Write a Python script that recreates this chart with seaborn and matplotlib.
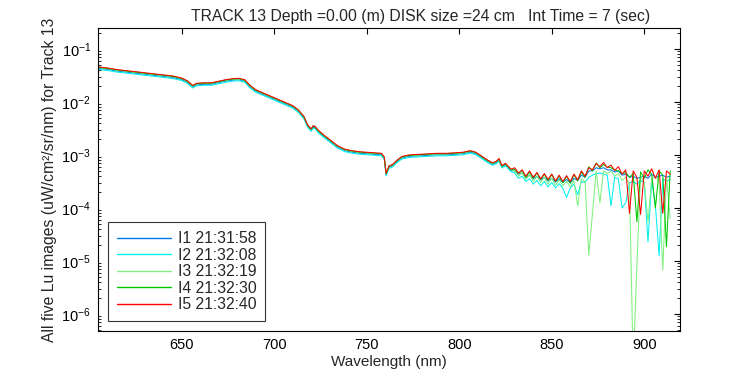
import numpy as np
import pandas as pd
import matplotlib
matplotlib.use("Agg")
import matplotlib.pyplot as plt
import seaborn as sns
from matplotlib.ticker import LogLocator, NullFormatter, FixedLocator

# ---------------- data (log10 of Lu) ----------------
series_names = ["I1 21:31:58", "I2 21:32:08", "I3 21:32:19", "I4 21:32:30", "I5 21:32:40"]
series_colors = ["#0078E8", "#00F0F0", "#80F080", "#00C800", "#FF0000"]

# smooth part shared by all five images
smooth_wl = [605, 610, 615, 620, 625, 630, 635, 640, 645, 650, 653, 656, 658, 662, 666,
             670, 674, 678, 681, 684, 687, 690, 694, 698, 702, 706, 710, 713, 716, 718,
             720, 721, 722, 724, 727, 730, 734, 738, 742, 746, 750, 754, 758, 759.5, 760.5,
             762, 764, 766, 769, 773, 778, 783, 788, 793, 798, 802, 806, 809, 812, 815,
             818, 820, 821.5, 823, 825, 828]
smooth_log = [-1.35, -1.37, -1.40, -1.42, -1.44, -1.46, -1.48, -1.50, -1.52, -1.56, -1.61,
              -1.70, -1.66, -1.65, -1.65, -1.62, -1.59, -1.57, -1.565, -1.59, -1.70, -1.78,
              -1.84, -1.90, -1.96, -2.02, -2.08, -2.16, -2.28, -2.44, -2.52, -2.46, -2.47,
              -2.55, -2.64, -2.72, -2.83, -2.90, -2.93, -2.95, -2.96, -2.97, -2.98, -3.05,
              -3.36, -3.22, -3.19, -3.12, -3.04, -3.01, -3.00, -2.99, -2.98, -2.98, -2.97,
              -2.96, -2.93, -2.96, -3.03, -3.10, -3.16, -3.13, -3.08, -3.21, -3.17, -3.28]
# small per-image shift of the smooth part (log10)
smooth_shift = [-0.015, -0.035, 0.0, 0.005, 0.012]

# noisy part, every 2 nm from 830 to 914 nm
noisy_wl = list(range(830, 915, 2))
noisy_I1 = [-3.30, -3.36, -3.34, -3.42, -3.38, -3.45, -3.40, -3.47, -3.42, -3.49, -3.44,
            -3.51, -3.45, -3.52, -3.46, -3.53, -3.44, -3.48, -3.38, -3.42, -3.30, -3.30,
            -3.24, -3.26, -3.24, -3.28, -3.28, -3.32, -3.30, -3.38, -3.36, -3.42, -3.40,
            -3.44, -3.42, -3.40, -3.44, -3.36, -3.42, -3.40, -3.38, -3.42, -3.40]
noisy_I2 = [-3.34, -3.44, -3.40, -3.50, -3.45, -3.55, -3.48, -3.58, -3.50, -3.60, -3.52,
            -3.62, -3.54, -3.63, -3.80, -3.62, -3.55, -3.75, -3.50, -3.52, -3.42, -3.38,
            -3.35, -3.34, -3.36, -3.38, -3.96, -3.42, -3.45, -4.00, -3.90, -3.52, -3.50,
            -3.55, -3.48, -3.52, -4.64, -3.48, -3.95, -4.90, -3.45, -3.50, -3.46]
noisy_I3 = [-3.30, -3.40, -3.33, -3.46, -3.37, -3.50, -3.40, -3.52, -3.42, -3.55, -3.44,
            -3.57, -3.47, -3.58, -3.50, -3.60, -3.48, -3.96, -3.45, -3.50, -4.89, -4.10,
            -3.30, -3.90, -3.30, -3.35, -3.30, -3.40, -3.35, -3.48, -3.42, -3.55, -7.00,
            -5.08, -3.40, -3.52, -4.26, -3.45, -3.40, -3.50, -5.17, -3.40, -4.20]
noisy_I4 = [-3.27, -3.35, -3.29, -3.42, -3.32, -3.44, -3.34, -3.46, -3.36, -3.48, -3.37,
            -3.50, -3.40, -3.52, -3.40, -3.53, -3.37, -3.49, -3.32, -3.42, -3.22, -3.30,
            -3.15, -3.24, -3.18, -3.23, -3.24, -3.28, -3.30, -3.35, -3.33, -3.42, -3.35,
            -4.26, -3.32, -3.44, -3.28, -3.36, -4.00, -3.30, -3.38, -4.73, -3.30]
noisy_I5 = [-3.24, -3.34, -3.28, -3.40, -3.30, -3.42, -3.33, -3.45, -3.35, -3.46, -3.36,
            -3.49, -3.38, -3.50, -3.39, -3.50, -3.36, -3.47, -3.30, -3.40, -3.24, -3.28,
            -3.16, -3.22, -3.14, -3.24, -3.19, -3.29, -3.22, -3.36, -3.28, -4.10, -3.30,
            -3.42, -4.12, -3.30, -3.40, -3.26, -3.44, -3.28, -4.10, -3.30, -3.36]
noisy_all = [noisy_I1, noisy_I2, noisy_I3, noisy_I4, noisy_I5]

x_ticks = [650, 700, 750, 800, 850, 900]
title_text = "TRACK 13 Depth =0.00 (m) DISK size =24 cm   Int Time = 7 (sec)"
x_label = "Wavelength (nm)"
y_label = "All five Lu images (uW/cm\u00b2/sr/nm) for Track 13"

# ---------------- build table ----------------
rows = []
for name, shift, noisy in zip(series_names, smooth_shift, noisy_all):
    for w, v in zip(smooth_wl, smooth_log):
        rows.append((name, w, 10 ** (v + shift)))
    for w, v in zip(noisy_wl, noisy):
        rows.append((name, w, 10 ** v))
df = pd.DataFrame(rows, columns=["image", "wl", "lu"])

# ---------------- plot ----------------
sns.set_style("white")
plt.rcParams["font.family"] = ["Liberation Sans", "DejaVu Sans"]
plt.rcParams["mathtext.fontset"] = "custom"
plt.rcParams["mathtext.rm"] = "Liberation Sans"
plt.rcParams["mathtext.it"] = "Liberation Sans"

fig = plt.figure(figsize=(7.5, 3.75), dpi=100)
ax = fig.add_axes([98 / 750, 1 - 331 / 375, 582 / 750, 303 / 375])

pal = dict(zip(series_names, series_colors))
sns.lineplot(data=df, x="wl", y="lu", hue="image", hue_order=series_names,
             palette=pal, estimator=None, sort=True, linewidth=0.75, ax=ax, legend=True)

ax.set_yscale("log")
ax.set_xlim(604.8, 919.3)
ax.set_ylim(10 ** -6.32, 10 ** -0.604)
ax.xaxis.set_major_locator(FixedLocator(x_ticks))
ax.set_xticklabels([str(t) for t in x_ticks])
ax.yaxis.set_major_locator(LogLocator(base=10, numticks=20))
ax.yaxis.set_minor_locator(LogLocator(base=10, subs=np.arange(2, 10), numticks=20))
ax.yaxis.set_minor_formatter(NullFormatter())

for s in ax.spines.values():
    s.set_linewidth(0.8)
    s.set_color("black")
ax.tick_params(axis="both", which="major", direction="in", length=4.3, width=0.8,
               top=True, right=True, labelsize=10.5, colors="black", pad=5)
ax.tick_params(axis="y", which="minor", direction="in", length=2.3, width=0.7,
               left=True, right=True)

ax.set_xlabel(x_label, fontsize=11, labelpad=2)
ax.set_ylabel(y_label, fontsize=11.3, labelpad=3)
ax.set_title(title_text, fontsize=11.3, x=0.555, pad=5)

leg = ax.legend(loc="lower left", bbox_to_anchor=(0.017, 0.033), borderaxespad=0,
                fontsize=11.3, handlelength=3.5, handletextpad=0.4, labelspacing=0.1,
                borderpad=0.55, fancybox=False, frameon=True)
leg.get_frame().set_edgecolor("black")
leg.get_frame().set_linewidth(0.8)
for line in leg.get_lines():
    line.set_linewidth(1.0)

fig.savefig("out.png", dpi=100, facecolor="white")
